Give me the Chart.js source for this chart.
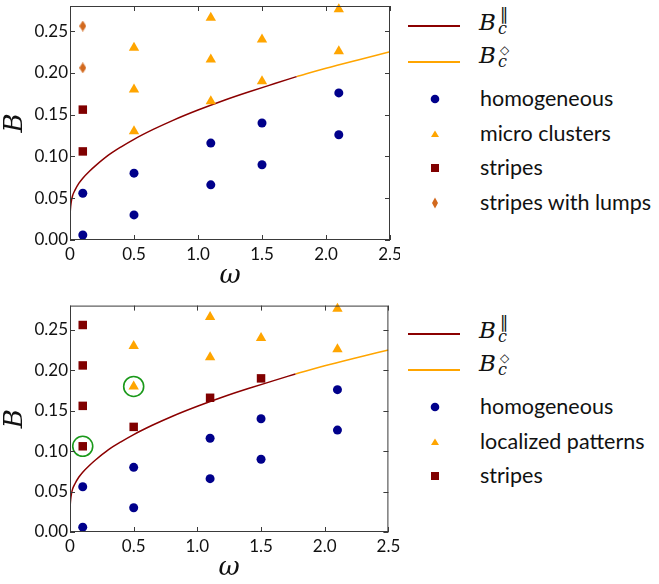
<!DOCTYPE html>
<html>
<head>
<meta charset="utf-8">
<script src="https://cdn.jsdelivr.net/npm/chart.js@4.4.1/dist/chart.umd.min.js"></script>
<style>
  body { margin: 0; background: #fff; }
  #wrap { position: relative; width: 659px; height: 584px; overflow: hidden; }
  canvas { position: absolute; left: 0; }
  .lg { position: absolute; font-family: Lato, sans-serif; font-size: 21.5px; line-height: 21px; color: #111; white-space: nowrap; }
  .mi { position: absolute; font-family: "DejaVu Serif", serif; font-style: italic; line-height: 1; color: #111; }
  .sym { position: absolute; font-family: "DejaVu Sans", sans-serif; line-height: 1; color: #111; }
  .ln { position: absolute; left: 408px; width: 52px; }
  svg { position: absolute; }
</style>
</head>
<body>
<div id="wrap">
  <canvas id="top" width="400" height="292" style="top:0"></canvas>
  <canvas id="bottom" width="400" height="290" style="top:294px"></canvas>
  <div id="legends"></div>
</div>
<script>
// axes
const xTicks = [0, 0.5, 1.0, 1.5, 2.0, 2.5];
const xTickLabels = ['0', '0.5', '1.0', '1.5', '2.0', '2.5'];
const yTicks = [0, 0.05, 0.10, 0.15, 0.20, 0.25];

// both panels
const homogOmega = [0.1, 0.1, 0.5, 0.5, 1.1, 1.1, 1.5, 1.5, 2.1, 2.1];
const homogB = [0.006, 0.056, 0.030, 0.080, 0.066, 0.116, 0.090, 0.140, 0.126, 0.176];

// critical lines
const bParOmega = [0.0, 0.005, 0.01, 0.02, 0.04, 0.07, 0.1, 0.15, 0.2, 0.3, 0.4, 0.5, 0.65, 0.8, 1.0, 1.2, 1.4, 1.6, 1.77];
const bParB = [0.030, 0.040, 0.046, 0.053, 0.060, 0.068, 0.074, 0.082, 0.089, 0.1015, 0.1115, 0.1205, 0.1323, 0.1429, 0.1555, 0.167, 0.1774, 0.1872, 0.1955];
const bDiaOmega = [1.77, 2.0, 2.25, 2.5];
const bDiaB = [0.1955, 0.2055, 0.2155, 0.2252];

// top panel
const microOmega = [0.5, 0.5, 0.5, 1.1, 1.1, 1.1, 1.5, 1.5, 2.1, 2.1];
const microB = [0.13, 0.18, 0.23, 0.166, 0.216, 0.266, 0.19, 0.24, 0.226, 0.276];
const stripesTopOmega = [0.1, 0.1];
const stripesTopB = [0.106, 0.156];
const lumpsOmega = [0.1, 0.1];
const lumpsB = [0.206, 0.256];

// bottom panel
const localOmega = [0.5, 0.5, 1.1, 1.1, 1.5, 2.1, 2.1];
const localB = [0.18, 0.23, 0.216, 0.266, 0.24, 0.226, 0.276];
const stripesBotOmega = [0.1, 0.1, 0.1, 0.1, 0.5, 1.1, 1.5];
const stripesBotB = [0.106, 0.156, 0.206, 0.256, 0.13, 0.166, 0.19];
const circledOmega = [0.1, 0.5];
const circledB = [0.106, 0.18];

const NAVY = '#00008b', ORANGE = '#ffa500', MAROON = '#800000', CHOC = '#d2691e', DARKRED = '#8b0000', GREEN = '#1a991a';

const pts = (xs, ys) => xs.map((x, i) => ({ x: x, y: ys[i] }));

function thinDiamond(w, h, color) {
    const c = document.createElement('canvas');
    c.width = w; c.height = h;
    const g = c.getContext('2d');
    g.fillStyle = color;
    g.beginPath();
    g.moveTo(w / 2, 0); g.lineTo(w, h / 2); g.lineTo(w / 2, h); g.lineTo(0, h / 2);
    g.closePath(); g.fill();
    return c;
}

function markers(xs, ys, color, style, r) {
    return { data: pts(xs, ys), pointStyle: style, pointRadius: r, backgroundColor: color, borderColor: color, borderWidth: 0, showLine: false, order: 1, clip: false };
}

function curve(xs, ys, color) {
    return { data: pts(xs, ys), showLine: true, pointRadius: 0, borderColor: color, borderWidth: 1.5, cubicInterpolationMode: 'monotone', order: 5 };
}

// frame and inward ticks on all four sides
const frameTicks = {
    id: 'frameTicks',
    afterDatasetsDraw(chart) {
        const { ctx, chartArea: a, scales: { x, y } } = chart;
        ctx.save();
        ctx.strokeStyle = '#3a3a3a';
        ctx.lineWidth = 1;
        ctx.strokeRect(a.left + 0.5, a.top + 0.5, a.right - a.left - 1, a.bottom - a.top - 1);
        ctx.beginPath();
        xTicks.forEach(v => {
            const px = Math.round(x.getPixelForValue(v)) + 0.5;
            ctx.moveTo(px, a.bottom); ctx.lineTo(px, a.bottom - 5);
            ctx.moveTo(px, a.top); ctx.lineTo(px, a.top + 5);
        });
        yTicks.forEach(v => {
            const py = Math.round(y.getPixelForValue(v)) + 0.5;
            ctx.moveTo(a.left, py); ctx.lineTo(a.left + 5, py);
            ctx.moveTo(a.right, py); ctx.lineTo(a.right - 5, py);
        });
        ctx.stroke();
        ctx.restore();
    }
};

function makeChart(id, datasets) {
    return new Chart(document.getElementById(id), {
        type: 'scatter',
        data: { datasets: datasets },
        options: {
            responsive: false,
            animation: false,
            devicePixelRatio: 1,
            layout: { padding: { top: 2, right: 10, left: 0, bottom: 0 } },
            plugins: { legend: { display: false }, tooltip: { enabled: false } },
            scales: {
                x: {
                    type: 'linear', min: 0, max: 2.5,
                    grid: { display: false, drawTicks: false },
                    border: { display: false },
                    afterBuildTicks: s => { s.ticks = xTicks.map(v => ({ value: v })); },
                    afterFit: s => { s.height = 52; s.paddingLeft = 0; s.paddingRight = 0; },
                    ticks: { callback: (v, i) => xTickLabels[i], font: { family: 'Lato', size: 17 }, color: '#111', padding: 4, maxRotation: 0, autoSkip: false },
                    title: { display: true, text: 'ω', font: { family: 'DejaVu Serif', style: 'italic', size: 26 }, color: '#111', padding: { top: 0, bottom: 0 } }
                },
                y: {
                    type: 'linear', min: 0, max: 0.28,
                    grid: { display: false, drawTicks: false },
                    border: { display: false },
                    afterBuildTicks: s => { s.ticks = yTicks.map(v => ({ value: v })); },
                    afterFit: s => { s.width = 70; s.paddingTop = 0; s.paddingBottom = 0; },
                    ticks: { callback: v => v.toFixed(2), font: { family: 'Lato', size: 17 }, color: '#111', padding: 2, autoSkip: false },
                    title: { display: true, text: 'B', font: { family: 'DejaVu Serif', style: 'italic', size: 26 }, color: '#111', padding: { top: 0, bottom: 0 } }
                }
            }
        },
        plugins: [frameTicks]
    });
}

const diamondPt = thinDiamond(7, 11, CHOC);

makeChart('top', [
    markers(homogOmega, homogB, NAVY, 'circle', 4.5),
    markers(microOmega, microB, ORANGE, 'triangle', 6),
    markers(stripesTopOmega, stripesTopB, MAROON, 'rect', 6),
    markers(lumpsOmega, lumpsB, CHOC, diamondPt, 5),
    curve(bParOmega, bParB, DARKRED),
    curve(bDiaOmega, bDiaB, ORANGE)
]);

makeChart('bottom', [
    { data: pts(circledOmega, circledB), pointStyle: 'circle', pointRadius: 10, backgroundColor: 'rgba(0,0,0,0)', borderColor: GREEN, borderWidth: 1.6, order: 0, clip: false },
    markers(homogOmega, homogB, NAVY, 'circle', 4.5),
    markers(localOmega, localB, ORANGE, 'triangle', 6),
    markers(stripesBotOmega, stripesBotB, MAROON, 'rect', 6),
    curve(bParOmega, bParB, DARKRED),
    curve(bDiaOmega, bDiaB, ORANGE)
]);

// legends (HTML so the math labels can carry sub/superscripts)
const markerSvg = {
    circle: c => `<svg width="10" height="10" style="left:430px;top:-5px"><circle cx="5" cy="5" r="4.3" fill="${c}"/></svg>`,
    triangle: c => `<svg width="10" height="10" style="left:430px;top:-5px"><polygon points="5,1.5 9,8 1,8" fill="${c}"/></svg>`,
    square: c => `<svg width="10" height="10" style="left:430px;top:-5px"><rect x="1" y="1" width="8" height="8" fill="${c}"/></svg>`,
    diamond: c => `<svg width="10" height="12" style="left:430px;top:-6px"><polygon points="5,0.5 8,6 5,11.5 2,6" fill="${c}"/></svg>`
};

function mathLabel(y, sup, supSize, supTop) {
    return `
        <div class="mi" style="left:479px;top:${y - 14}px;font-size:23px">B</div>
        <div class="mi" style="left:498px;top:${y - 4}px;font-size:16px">c</div>
        <div class="sym" style="left:500px;top:${y + supTop}px;font-size:${supSize}px">${sup}</div>`;
}

function legendBlock(offset, rows) {
    let html = `
        <div class="ln" style="top:${offset + 25}px;background:${DARKRED};height:1.5px"></div>
        ${mathLabel(offset + 25, '∥', 17, -19)}
        <div class="ln" style="top:${offset + 61}px;background:${ORANGE};height:1.5px"></div>
        ${mathLabel(offset + 58, '◇', 12, -14)}`;
    rows.forEach(r => {
        html += `<div style="position:absolute;left:0;top:${offset + r.y}px">${markerSvg[r.shape](r.color)}</div>
        <div class="lg" style="left:480px;top:${offset + r.y - 11}px">${r.label}</div>`;
    });
    return html;
}

document.getElementById('legends').innerHTML =
    legendBlock(0, [
        { y: 99, shape: 'circle', color: NAVY, label: 'homogeneous' },
        { y: 134, shape: 'triangle', color: ORANGE, label: 'micro clusters' },
        { y: 168, shape: 'square', color: MAROON, label: 'stripes' },
        { y: 203, shape: 'diamond', color: CHOC, label: 'stripes with lumps' }
    ]) +
    legendBlock(308, [
        { y: 99, shape: 'circle', color: NAVY, label: 'homogeneous' },
        { y: 134, shape: 'triangle', color: ORANGE, label: 'localized patterns' },
        { y: 168, shape: 'square', color: MAROON, label: 'stripes' }
    ]);
</script>
</body>
</html>
